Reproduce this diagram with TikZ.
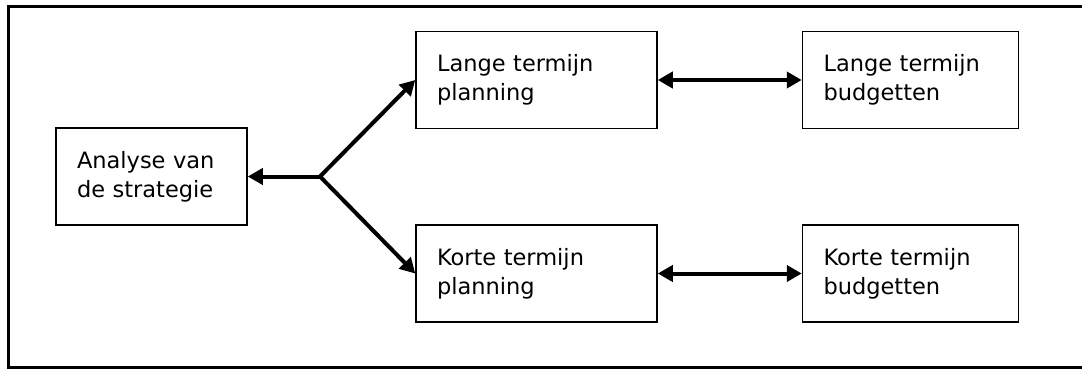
\documentclass[tikz,border=0pt]{standalone}
\usepackage{fontspec}
\setmainfont{DejaVu Sans}
\usepackage{tikz}
\usetikzlibrary{positioning, arrows.meta}

\begin{document}
\begin{tikzpicture}[x=1pt, y=-1pt, node distance=96pt,
        box/.style={draw, line width=1.5pt, minimum height=97pt, inner xsep=21pt, inner ysep=0pt,
          align=left, font=\fontsize{22.5}{29}\selectfont},
        conn/.style={line width=4pt, -{Triangle[length=15pt, width=16pt]}},
        both/.style={line width=4pt, {Triangle[length=15pt, width=16pt]}-{Triangle[length=15pt, width=16pt]}}]
        \useasboundingbox (0,0) rectangle (1082,369);
        % outer frame, open on the right
        \draw[line width=3pt] (1090,7) -- (8,7) -- (8,367) -- (1090,367);
        \node[box, text width=149pt] (analyse) at (151.5,176.5) {Analyse van\\de strategie};
        \node[box, text width=199pt] (lplan) at (536.5,80) {Lange termijn\\planning};
        \node[box, text width=199pt, below=95pt of lplan] (kplan) {Korte termijn\\planning};
        \node[box, text width=174pt, right=144pt of lplan] (lbudget) {Lange termijn\\budgetten};
        \node[box, text width=174pt, right=144pt of kplan] (kbudget) {Korte termijn\\budgetten};
        \coordinate (split) at (320,176.5);
        \draw[conn] (split) -- (analyse.east);
        \draw[conn, line join=miter] (split) -- (lplan.west);
        \draw[conn] (split) -- (kplan.west);
        \draw[both] (lplan) -- (lbudget);
        \draw[both] (kplan) -- (kbudget);
      \end{tikzpicture}
\end{document}
